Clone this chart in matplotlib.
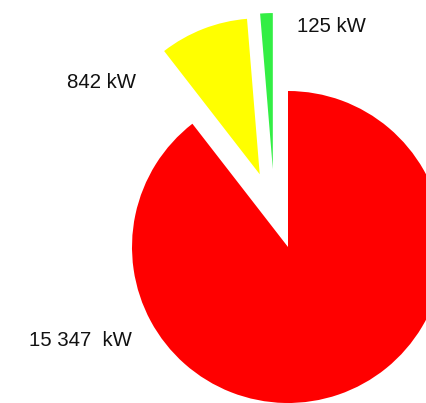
import matplotlib.pyplot as plt
import matplotlib.transforms as mtransforms

# angular shares as drawn (labels carry the real kW values)
shares = [89.5, 9.2, 1.3]
labels = ['15 347  kW', '842 kW', '125 kW']
colors = ['#FF0000', '#FFFF00', '#33EE44']
explode = [0, 0.5, 0.5]

plt.rcParams['font.family'] = ['Liberation Sans', 'DejaVu Sans']

W, H = 427, 403
fig = plt.figure(figsize=(W / 100, H / 100), dpi=100)
ax = fig.add_axes([0, 0, 1, 1])

wedges, _ = ax.pie(shares, colors=colors, explode=explode, startangle=90,
                   counterclock=False, radius=1.0,
                   wedgeprops=dict(linewidth=0))

# the small green slice sits a bit further left in the original
shift = mtransforms.ScaledTranslation(-12 / 100, 0, fig.dpi_scale_trans)
wedges[2].set_transform(wedges[2].get_transform() + shift)

# pie centre at (288, 247) px, radius 156 px
cx, cy, r = 288, 247, 156
ax.set_xlim(-cx / r, (W - cx) / r)
ax.set_ylim(-(H - cy) / r, cy / r)
ax.set_aspect('auto')
ax.axis('off')

text_pos = [(29, 340), (67, 82), (297, 26)]
for lab, (x, y) in zip(labels, text_pos):
    fig.text(x / W, 1 - y / H, lab, ha='left', va='center',
             fontsize=14.7, color='#111111')

plt.savefig('out.png', dpi=100)
plt.close()
